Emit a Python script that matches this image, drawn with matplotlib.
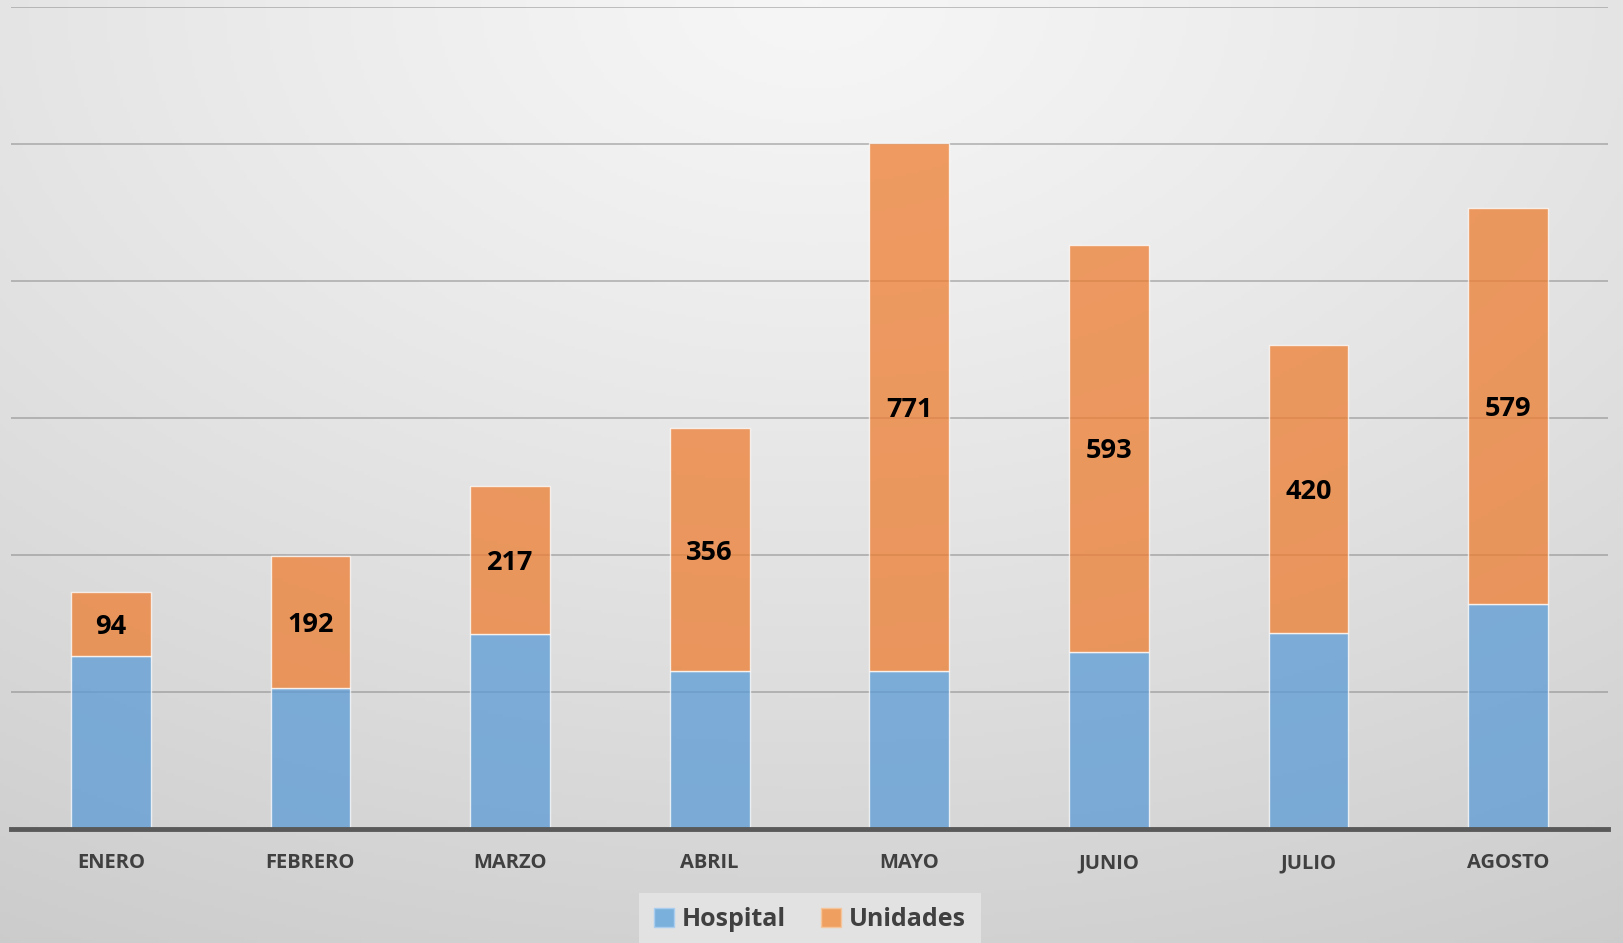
import numpy as np
import matplotlib
matplotlib.use("Agg")
import matplotlib.pyplot as plt
from matplotlib.patches import Patch

months = ["ENERO", "FEBRERO", "MARZO", "ABRIL", "MAYO", "JUNIO", "JULIO", "AGOSTO"]
hospital = [252, 206, 284, 230, 230, 259, 286, 328]
unidades = [94, 192, 217, 356, 771, 593, 420, 579]

W, H = 1624, 943
fig = plt.figure(figsize=(W / 100, H / 100), dpi=100)

# background radial gradient
bg = fig.add_axes([0, 0, 1, 1], zorder=-10)
yy, xx = np.mgrid[0:1:300j, 0:1:500j]
r = np.sqrt(((xx - 0.5) * 1.0) ** 2 + (yy * 0.9) ** 2)
val = 0.965 - 0.17 * np.clip(r / 1.05, 0, 1) ** 1.2
bg.imshow(np.dstack([val, val, val]), extent=[0, 1, 0, 1], origin="upper", aspect="auto")
bg.set_xlim(0, 1)
bg.set_ylim(0, 1)
bg.axis("off")

ax = fig.add_axes([11 / W, 114 / H, 1597 / W, 822 / H])
ax.patch.set_alpha(0)
x = np.arange(len(months))
ax.bar(x, hospital, width=0.4, color="#5B9BD5", alpha=0.75, edgecolor="white", linewidth=1.0, zorder=3)
ax.bar(x, unidades, width=0.4, bottom=hospital, color="#ED7D31", alpha=0.75, edgecolor="white",
       linewidth=1.0, zorder=3)
for xi, h, u in zip(x, hospital, unidades):
    ax.text(xi, h + u / 2, str(u), ha="center", va="center_baseline", fontsize=19.5, fontweight="bold",
            family=["Open Sans", "DejaVu Sans"], color="black", zorder=5)

ax.set_xlim(-0.5, len(months) - 0.5)
ax.set_ylim(0, 1200)
ax.set_yticks(np.arange(200, 1201, 200))
ax.yaxis.grid(True, color="#7f7f7f", alpha=0.5, linewidth=1.3, zorder=1)
ax.set_axisbelow(True)
ax.tick_params(axis="y", left=False, labelleft=False)
ax.tick_params(axis="x", bottom=False, pad=14)
ax.set_xticks(x)
ax.set_xticklabels(months, fontsize=14.5, fontweight="bold", color="#404040", family=["Open Sans", "DejaVu Sans"])
for s in ["top", "right", "left"]:
    ax.spines[s].set_visible(False)
ax.spines["bottom"].set_color("#595959")
ax.spines["bottom"].set_linewidth(3.5)
ax.spines["bottom"].set_zorder(6)

handles = [Patch(facecolor="#7ab0dc", edgecolor="#a9cdee", label="Hospital"),
           Patch(facecolor="#efa060", edgecolor="#f5c49a", label="Unidades")]
leg = fig.legend(handles=handles, loc="upper center", bbox_to_anchor=(810 / W, 1 - 880 / H), ncol=2,
                 frameon=True, fancybox=False, handlelength=0.8, handleheight=0.8, handletextpad=0.3,
                 columnspacing=1.4, borderpad=0.6, prop={"family": ["Open Sans", "DejaVu Sans"],
                                                          "weight": "bold", "size": 18})
leg.get_frame().set_facecolor("#e2e2e2")
leg.get_frame().set_edgecolor("none")
leg.get_frame().set_alpha(1)
for t in leg.get_texts():
    t.set_color("#404040")

fig.savefig("out.png", dpi=100)
